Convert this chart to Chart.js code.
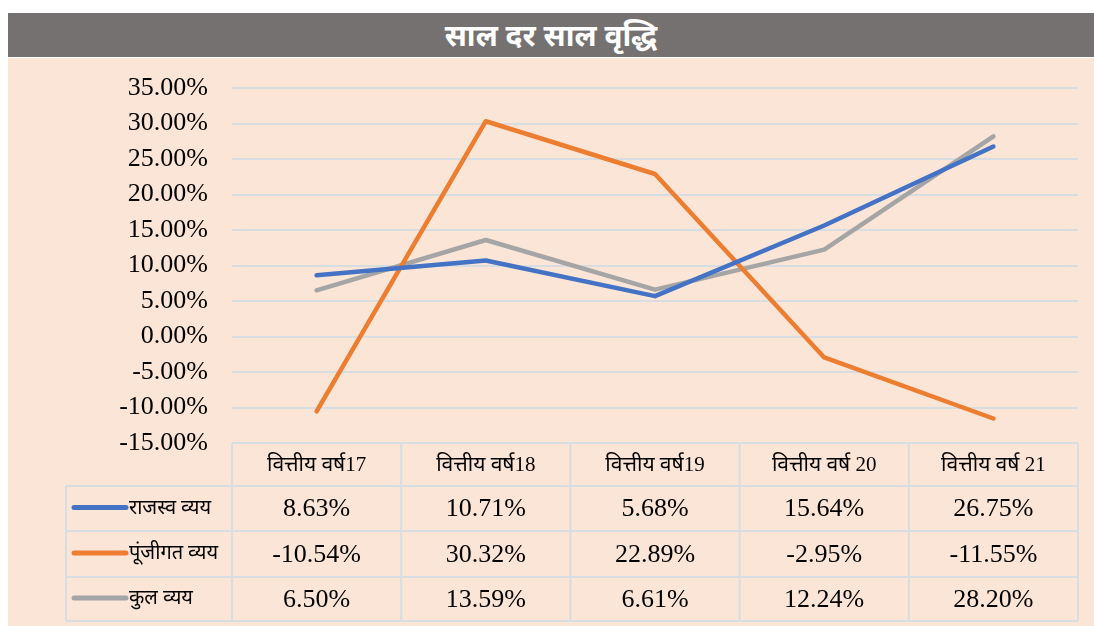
<!DOCTYPE html>
<html>
<head>
<meta charset="utf-8">
<script src="https://cdn.jsdelivr.net/npm/chart.js@4.4.1/dist/chart.umd.min.js"></script>
<style>
  html, body { margin: 0; padding: 0; background: #ffffff; width: 1094px; height: 626px; overflow: hidden; }
  #title { position: absolute; left: 8px; top: 13px; width: 1086px; height: 44px; background: #767171;
    color: #ffffff; font-family: "Noto Sans", "Noto Sans Devanagari", sans-serif; font-weight: bold; font-size: 30px;
    line-height: 44px; text-align: center; }
  #wrap { position: absolute; left: 8px; top: 58px; width: 1086px; height: 568px; background: #fbe5d6; }
  canvas { display: block; }
</style>
</head>
<body>
<div id="title">साल दर साल वृद्धि</div>
<div id="wrap"><canvas id="c" width="1086" height="568"></canvas></div>
<script>
const categories = ['वित्तीय वर्ष17', 'वित्तीय वर्ष18', 'वित्तीय वर्ष19', 'वित्तीय वर्ष 20', 'वित्तीय वर्ष 21'];
const seriesNames = ['राजस्व व्यय', 'पूंजीगत व्यय', 'कुल व्यय'];
const rajaswaVyaya = [8.63, 10.71, 5.68, 15.64, 26.75];
const punjigatVyaya = [-10.54, 30.32, 22.89, -2.95, -11.55];
const kulVyaya = [6.50, 13.59, 6.61, 12.24, 28.20];
const seriesColors = ['#4472c4', '#ed7d31', '#a5a5a5'];
const yMin = -15, yMax = 35, yStep = 5;

const seriesValues = [rajaswaVyaya, punjigatVyaya, kulVyaya];
const gridColor = '#d8dde1';

const tablePlugin = {
  id: 'dataTable',
  afterDraw(chart) {
    const ctx = chart.ctx;
    const xs = chart.scales.x;
    const area = chart.chartArea;
    const n = categories.length;
    const colW = (area.right - area.left) / n;
    const rowTops = [area.bottom, area.bottom + 43, area.bottom + 88, area.bottom + 134, area.bottom + 178];
    const leftX = 58;
    ctx.save();
    ctx.strokeStyle = gridColor;
    ctx.lineWidth = 2;
    ctx.beginPath();
    ctx.moveTo(area.left, rowTops[0]); ctx.lineTo(area.right, rowTops[0]);
    for (let r = 1; r < rowTops.length; r++) {
      ctx.moveTo(leftX, rowTops[r]); ctx.lineTo(area.right, rowTops[r]);
    }
    for (let i = 0; i <= n; i++) {
      const x = area.left + i * colW;
      ctx.moveTo(x, rowTops[0]); ctx.lineTo(x, rowTops[4]);
    }
    ctx.moveTo(leftX, rowTops[1]); ctx.lineTo(leftX, rowTops[4]);
    ctx.stroke();

    ctx.fillStyle = '#000000';
    ctx.textAlign = 'center';
    ctx.textBaseline = 'middle';
    ctx.font = '21px "Liberation Serif", "Noto Sans Devanagari", serif';
    for (let i = 0; i < n; i++) {
      const cx = xs.getPixelForValue(i);
      ctx.fillText(categories[i], cx, (rowTops[0] + rowTops[1]) / 2 + 1);
    }
    for (let s = 0; s < seriesValues.length; s++) {
      const cy = (rowTops[s + 1] + rowTops[s + 2]) / 2;
      ctx.font = '26px "Liberation Serif", serif';
      ctx.textAlign = 'center';
      for (let i = 0; i < n; i++) {
        const cx = xs.getPixelForValue(i);
        ctx.fillText(seriesValues[s][i].toFixed(2) + '%', cx, cy + 1);
      }
      ctx.strokeStyle = seriesColors[s];
      ctx.lineWidth = 5;
      ctx.lineCap = 'round';
      ctx.beginPath();
      ctx.moveTo(66, cy - 1); ctx.lineTo(118, cy - 1);
      ctx.stroke();
      ctx.textAlign = 'left';
      ctx.font = '20px "Liberation Serif", "Noto Sans Devanagari", serif';
      ctx.fillText(seriesNames[s], 121, cy);
    }
    ctx.restore();
  }
};

new Chart(document.getElementById('c'), {
  type: 'line',
  data: {
    labels: categories,
    datasets: seriesNames.map((name, k) => ({
      label: name,
      data: seriesValues[k],
      borderColor: seriesColors[k],
      backgroundColor: seriesColors[k],
      borderWidth: 4.5,
      borderCapStyle: 'round',
      borderJoinStyle: 'round',
      pointRadius: 0,
      pointHoverRadius: 0,
      tension: 0,
      fill: false
    }))
  },
  options: {
    responsive: false,
    animation: false,
    layout: { padding: { left: 0, right: 16, top: 30, bottom: 183 } },
    plugins: { legend: { display: false }, title: { display: false }, tooltip: { enabled: false } },
    scales: {
      x: { type: 'category', offset: true, display: false },
      y: {
        min: yMin, max: yMax,
        afterFit(scale) { scale.width = 224; scale.paddingTop = 0; scale.paddingBottom = 0; },
        border: { display: false },
        grid: { color: gridColor, lineWidth: 2, drawTicks: false },
        ticks: {
          stepSize: yStep,
          padding: 24,
          color: '#000000',
          font: { family: '"Liberation Serif", serif', size: 26 },
          callback: (v) => v.toFixed(2) + '%'
        }
      }
    }
  },
  plugins: [tablePlugin]
});
</script>
</body>
</html>
